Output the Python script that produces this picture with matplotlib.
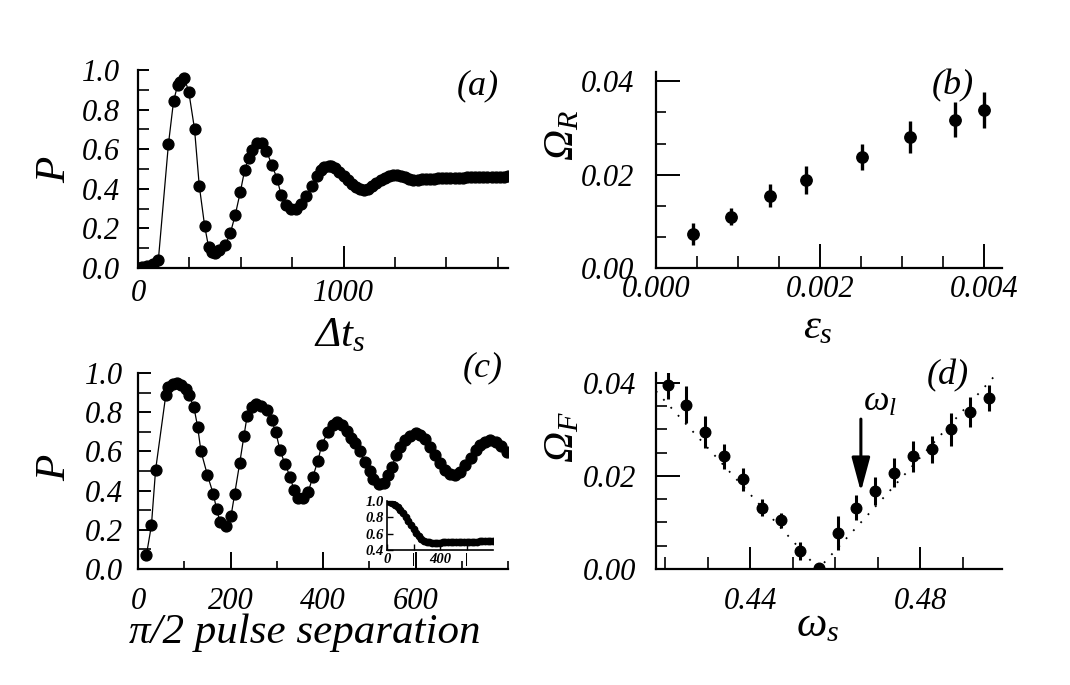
import matplotlib
matplotlib.use("Agg")
import matplotlib.pyplot as plt
from matplotlib.ticker import MultipleLocator, FixedLocator

plt.rcParams['font.family'] = ['Liberation Serif', 'DejaVu Serif']
plt.rcParams['font.style'] = 'italic'
plt.rcParams['mathtext.fontset'] = 'custom'
plt.rcParams['mathtext.it'] = 'Liberation Serif:italic'
plt.rcParams['mathtext.rm'] = 'Liberation Serif:italic'

# ---------------- data ----------------
# panel (a): P vs delta t_s
a_x = [0, 18, 42, 75, 99, 148, 173, 193, 205, 226, 247, 275, 298, 324, 343, 359,
       376, 395, 424, 449, 473, 498, 519, 538, 555, 579, 604, 624, 652, 677, 696,
       721, 745, 769, 795, 818, 848, 872, 888, 907, 929,
       940, 960, 980, 1000, 1020, 1040, 1060, 1080, 1100, 1120, 1140, 1160, 1180,
       1200, 1220, 1240, 1260, 1280, 1300, 1320, 1340, 1360, 1380, 1400, 1420,
       1440, 1460, 1480, 1500, 1520, 1540, 1560, 1580, 1600, 1620, 1640, 1660,
       1680, 1700, 1720, 1740, 1760, 1780, 1800]
a_y = [0.0, 0.005, 0.01, 0.02, 0.04, 0.625, 0.843, 0.924, 0.941, 0.958, 0.890,
       0.702, 0.416, 0.214, 0.108, 0.082, 0.077, 0.091, 0.115, 0.175, 0.268, 0.385,
       0.495, 0.554, 0.596, 0.633, 0.630, 0.592, 0.520, 0.449, 0.369, 0.318, 0.296,
       0.296, 0.323, 0.365, 0.414, 0.465, 0.495, 0.512, 0.515,
       0.515, 0.505, 0.485, 0.465, 0.445, 0.425, 0.410, 0.400, 0.396, 0.400, 0.412,
       0.428, 0.443, 0.455, 0.464, 0.468, 0.469, 0.465, 0.458, 0.450, 0.446, 0.445,
       0.447, 0.450, 0.452, 0.452, 0.453, 0.454, 0.455, 0.455, 0.456, 0.456, 0.457,
       0.458, 0.458, 0.459, 0.459, 0.460, 0.460, 0.461, 0.461, 0.462, 0.462, 0.463]

# panel (b): Omega_R vs epsilon_s
b_x = [0.000447, 0.00091, 0.00139, 0.001825, 0.002508, 0.0031, 0.003646, 0.004004]
b_y = [0.00733, 0.01103, 0.01552, 0.01886, 0.02384, 0.0281, 0.0318, 0.0339]
b_err = [0.0024, 0.0018, 0.0024, 0.003, 0.0028, 0.0034, 0.0037, 0.0038]

# panel (c): P vs pi/2 pulse separation
c_x = [18, 29, 38, 60, 65, 76, 85, 94, 103, 110, 121, 129, 136, 150, 163, 170, 177,
       190, 201, 209, 220, 229, 236, 246, 256, 267, 278, 289, 298, 307, 318, 329,
       337, 347, 356, 368, 378, 389, 397, 410, 421, 430, 441, 451, 461, 470, 479,
       490, 501, 509, 520, 531, 540, 549, 558, 567, 578, 589, 600, 610, 621, 632,
       643, 654, 664, 675, 686, 697, 708, 719, 730, 740, 751, 762, 773, 784, 798]
c_y = [0.069, 0.222, 0.505, 0.886, 0.929, 0.946, 0.951, 0.937, 0.92, 0.89, 0.824,
       0.725, 0.602, 0.48, 0.381, 0.305, 0.242, 0.217, 0.268, 0.383, 0.542, 0.678,
       0.781, 0.827, 0.844, 0.832, 0.81, 0.759, 0.697, 0.607, 0.534, 0.471, 0.403,
       0.364, 0.361, 0.392, 0.471, 0.551, 0.632, 0.697, 0.737, 0.751, 0.734, 0.703,
       0.666, 0.644, 0.602, 0.544, 0.5, 0.459, 0.432, 0.437, 0.48, 0.522, 0.581,
       0.624, 0.658, 0.678, 0.692, 0.686, 0.663, 0.624, 0.581, 0.539, 0.505, 0.483,
       0.48, 0.497, 0.531, 0.564, 0.607, 0.632, 0.649, 0.658, 0.649, 0.629, 0.598]

# inset of (c)
i_x = [0, 20, 40, 60, 80, 100, 120, 140, 160, 180, 200, 220, 240, 260, 280, 300,
       320, 340, 360, 380, 400, 420, 440, 460, 480, 500, 520, 540, 560, 580, 600,
       620, 640, 660, 680, 700, 720, 740, 760, 780, 800]
i_y = [1.0, 0.99, 0.975, 0.955, 0.93, 0.895, 0.855, 0.81, 0.76, 0.705, 0.655, 0.61,
       0.57, 0.535, 0.51, 0.498, 0.492, 0.49, 0.49, 0.49, 0.491, 0.492, 0.493, 0.493,
       0.494, 0.495, 0.496, 0.497, 0.498, 0.499, 0.5, 0.501, 0.502, 0.503, 0.504,
       0.505, 0.506, 0.507, 0.508, 0.509, 0.51]

# panel (d): Omega_F vs omega_s
d_x = [0.42055, 0.42494, 0.42941, 0.43388, 0.43827, 0.44275, 0.44722, 0.45176,
       0.45608, 0.46055, 0.46494, 0.46941, 0.47388, 0.47827, 0.48275, 0.48722,
       0.49161, 0.49624]
d_y = [0.0395, 0.0353, 0.0294, 0.0242, 0.0193, 0.0132, 0.0105, 0.0039, 0.0002,
       0.0077, 0.0132, 0.0168, 0.0207, 0.0242, 0.0257, 0.030, 0.0337, 0.0367]
d_err = [0.003, 0.004, 0.0034, 0.0027, 0.0025, 0.0019, 0.0016, 0.0019, 0.0,
         0.0036, 0.0026, 0.003, 0.0031, 0.0033, 0.0029, 0.0035, 0.0033, 0.0028]
fit_x = [0.4178, 0.456, 0.4992]
fit_y = [0.0382, 0.0, 0.0432]
omega_l = 0.466
arrow_y = [0.0322, 0.0166]

# ---------------- layout ----------------
W, H = 1070, 685
fig = plt.figure(figsize=(W / 100, H / 100), dpi=100)


def add_px(l, t, r, b):
    return fig.add_axes([l / W, 1 - b / H, (r - l) / W, (b - t) / H])


def style(ax, xmaj_len, xmin_len, ymaj_len, ymin_len, xpad, ypad, size=22):
    for s in ('top', 'right'):
        ax.spines[s].set_visible(False)
    for s in ('left', 'bottom'):
        ax.spines[s].set_linewidth(1.6)
    ax.tick_params(axis='x', which='major', direction='in', length=xmaj_len,
                   width=1.4, pad=xpad, labelsize=size)
    ax.tick_params(axis='x', which='minor', direction='in', length=xmin_len, width=1.2)
    ax.tick_params(axis='y', which='major', direction='in', length=ymaj_len,
                   width=1.4, pad=ypad, labelsize=size)
    ax.tick_params(axis='y', which='minor', direction='in', length=ymin_len, width=1.2)


LBL = 31
TAG = 26
MS = 7.8

# (a)
axa = add_px(138, 70, 508, 268)
axa.plot(a_x, a_y, '-', color='k', lw=0.9, marker='o', ms=MS, mfc='k', mec='k')
axa.set_xlim(0, 1800)
axa.set_ylim(0, 1.0)
axa.xaxis.set_major_locator(MultipleLocator(1000))
axa.xaxis.set_minor_locator(MultipleLocator(250))
axa.yaxis.set_major_locator(MultipleLocator(0.2))
axa.yaxis.set_minor_locator(MultipleLocator(0.1))
axa.yaxis.set_major_formatter(lambda v, p: f"{v:.1f}")
style(axa, 16, 8, 8, 8, 8, 13)

# (b)
axb = add_px(656, 72, 1002, 268)
axb.errorbar(b_x, b_y, yerr=b_err, fmt='o', color='k', ms=8.2, elinewidth=2.4, capsize=0)
axb.set_xlim(0, 0.00422)
axb.set_ylim(0, 0.042)
axb.xaxis.set_major_locator(MultipleLocator(0.002))
axb.xaxis.set_minor_locator(MultipleLocator(0.0005))
axb.yaxis.set_major_locator(MultipleLocator(0.02))
axb.yaxis.set_minor_locator(MultipleLocator(0.02 / 3))
axb.xaxis.set_major_formatter(lambda v, p: f"{v:.3f}")
axb.yaxis.set_major_formatter(lambda v, p: f"{v:.2f}")
style(axb, 17, 9, 17, 7, 5, 16)

# (c)
axc = add_px(138, 373, 508, 569)
axc.plot(c_x, c_y, '-', color='k', lw=0.9, marker='o', ms=MS, mfc='k', mec='k')
axc.set_xlim(0, 800)
axc.set_ylim(0, 1.0)
axc.xaxis.set_major_locator(MultipleLocator(200))
axc.xaxis.set_minor_locator(MultipleLocator(100))
axc.yaxis.set_major_locator(MultipleLocator(0.2))
axc.yaxis.set_minor_locator(MultipleLocator(0.1))
axc.yaxis.set_major_formatter(lambda v, p: f"{v:.1f}")
axc.set_xticks([0, 200, 400, 600])
style(axc, 12, 6, 9, 9, 13, 11)

# inset
axi = add_px(387, 501, 493, 550)
axi.plot(i_x, i_y, 'o', color='k', ms=4.6)
axi.set_xlim(0, 800)
axi.set_ylim(0.4, 1.0)
axi.xaxis.set_major_locator(FixedLocator([0, 200, 400, 600]))
axi.set_xticklabels(['0', '|', '400', '|'])
axi.yaxis.set_major_locator(MultipleLocator(0.2))
axi.yaxis.set_major_formatter(lambda v, p: f"{v:.1f}")
for s in ('top', 'right'):
    axi.spines[s].set_visible(False)
for s in ('left', 'bottom'):
    axi.spines[s].set_linewidth(1.2)
axi.tick_params(direction='in', length=4, width=1, labelsize=10.5, pad=2)
for t in axi.get_xticklabels() + axi.get_yticklabels():
    t.set_fontweight('bold')

# (d)
axd = add_px(656, 373, 1002, 569)
axd.plot(fit_x, fit_y, color='k', lw=1.3, linestyle=(0, (1, 5)))
axd.errorbar(d_x, d_y, yerr=d_err, fmt='o', color='k', ms=7.6, elinewidth=2.2, capsize=0)
axd.set_xlim(0.4178, 0.4992)
axd.set_ylim(0, 0.0421)
axd.xaxis.set_major_locator(FixedLocator([0.44, 0.48]))
axd.xaxis.set_minor_locator(MultipleLocator(0.01))
axd.yaxis.set_major_locator(MultipleLocator(0.02))
axd.yaxis.set_minor_locator(MultipleLocator(0.005))
axd.xaxis.set_major_formatter(lambda v, p: f"{v:.2f}")
axd.yaxis.set_major_formatter(lambda v, p: f"{v:.2f}")
style(axd, 16, 9, 17, 8, 13, 14)
axd.annotate('', xy=(omega_l, arrow_y[1]), xytext=(omega_l, arrow_y[0]),
             arrowprops=dict(arrowstyle='-|>,head_length=1.3,head_width=0.35',
                             color='k', lw=2.2, mutation_scale=16, shrinkA=0, shrinkB=0))
axd.text(omega_l + 0.0004, 0.0358, r'$\mathit{ω_l}$', fontsize=26, ha='left', va='center')

# labels


def ftext(x, y, s, size, **kw):
    fig.text(x / W, 1 - y / H, s, fontsize=size, ha='center', va='center', **kw)


ftext(478, 86, '(a)', TAG)
ftext(953, 86, '(b)', TAG)
ftext(483, 368, '(c)', TAG)
ftext(948, 376, '(d)', TAG)

ftext(55, 170, 'P', LBL, rotation=90)
ftext(55, 468, 'P', LBL, rotation=90)
ftext(563, 135, r'$\mathit{Ω_R}$', LBL, rotation=90)
ftext(563, 437, r'$\mathit{Ω_F}$', LBL, rotation=90)
ftext(340, 336, r'$\mathit{Δt_s}$', LBL)
ftext(818, 328, r'$\mathit{ε_s}$', LBL)
ftext(305, 633, 'π/2 pulse separation', LBL)
ftext(818, 626, r'$\mathit{ω_s}$', LBL)

fig.savefig('out.png', dpi=100)
